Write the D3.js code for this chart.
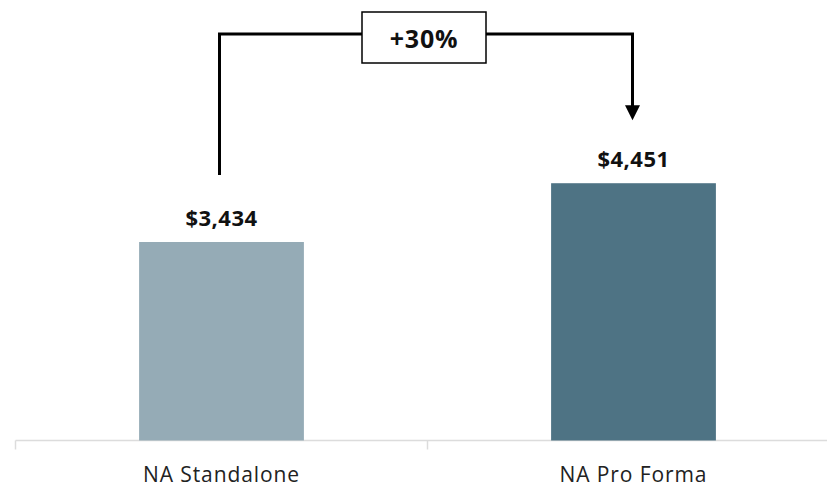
<!DOCTYPE html>
<html>
<head>
<meta charset="utf-8">
<script src="https://cdn.jsdelivr.net/npm/d3@7"></script>
<style>
  body { margin: 0; background: #fff; }
  text { font-family: "Open Sans", "Noto Sans", sans-serif; }
</style>
</head>
<body>
<div id="chart"></div>
<script>
// datos
const categories = ['NA Standalone', 'NA Pro Forma'];
const values = [3434, 4451];
const barColors = ['#95abb6', '#4e7384'];
const growthLabel = '+30%';

const width = 827, height = 486;
const baseY = 440.5;

const svg = d3.select('#chart').append('svg')
  .attr('width', width)
  .attr('height', height);

const x = d3.scaleBand()
  .domain(categories)
  .range([15.5, 839.5])
  .paddingInner(0.6)
  .paddingOuter(0.3);

const y = d3.scaleLinear()
  .domain([0, 3434])
  .range([baseY, 242]);

// --- eje x ---
const axis = svg.append('g').attr('transform', `translate(0,${baseY})`);
axis.append('line')
  .attr('x1', 15.5).attr('x2', width)
  .attr('stroke', '#dcdcdc').attr('stroke-width', 1.5);
[15.5, 427.5].forEach(t => {
  axis.append('line')
    .attr('x1', t).attr('x2', t)
    .attr('y1', 0).attr('y2', 9)
    .attr('stroke', '#dcdcdc').attr('stroke-width', 1.5);
});
axis.selectAll('text.cat')
  .data(categories)
  .join('text')
  .attr('class', 'cat')
  .attr('x', d => x(d) + x.bandwidth() / 2)
  .attr('y', 41)
  .attr('text-anchor', 'middle')
  .attr('font-size', '21px')
  .attr('letter-spacing', '0.9px')
  .attr('fill', '#222')
  .text(d => d);

// --- barras ---
svg.selectAll('rect.bar')
  .data(values)
  .join('rect')
  .attr('class', 'bar')
  .attr('x', (d, i) => x(categories[i]))
  .attr('width', x.bandwidth())
  .attr('y', d => y(d))
  .attr('height', d => baseY - y(d))
  .attr('fill', (d, i) => barColors[i]);

svg.selectAll('text.val')
  .data(values)
  .join('text')
  .attr('class', 'val')
  .attr('x', (d, i) => x(categories[i]) + x.bandwidth() / 2)
  .attr('y', d => y(d) - 16)
  .attr('text-anchor', 'middle')
  .attr('font-size', '22px')
  .attr('letter-spacing', '0.5px')
  .attr('font-weight', 'bold')
  .attr('fill', '#111')
  .text(d => '$' + d3.format(',')(d));

// --- corchete de crecimiento ---
const x1 = x(categories[0]) + x.bandwidth() / 2 - 2;
const x2 = x(categories[1]) + x.bandwidth() / 2 - 1;
const topY = 34;
const startY = y(values[0]) - 67;
const tipY = y(values[1]) - 63;

svg.append('path')
  .attr('fill', 'none')
  .attr('stroke', '#000')
  .attr('stroke-width', 3)
  .attr('d', `M${x1},${startY} V${topY} H${x2} V${tipY - 14}`);

svg.append('path')
  .attr('fill', '#000')
  .attr('d', `M${x2 - 7.5},${tipY - 15} L${x2 + 7.5},${tipY - 15} L${x2},${tipY} Z`);

const boxX = 362, boxW = 124, boxY = 12, boxH = 51;
svg.append('rect')
  .attr('x', boxX).attr('y', boxY)
  .attr('width', boxW).attr('height', boxH)
  .attr('fill', '#fff')
  .attr('stroke', '#000')
  .attr('stroke-width', 1.5);
svg.append('text')
  .attr('x', boxX + boxW / 2)
  .attr('y', boxY + boxH / 2 + 10)
  .attr('text-anchor', 'middle')
  .attr('font-size', '25px')
  .attr('letter-spacing', '0.8px')
  .attr('font-weight', 'bold')
  .attr('fill', '#111')
  .text(growthLabel);
</script>
</body>
</html>
